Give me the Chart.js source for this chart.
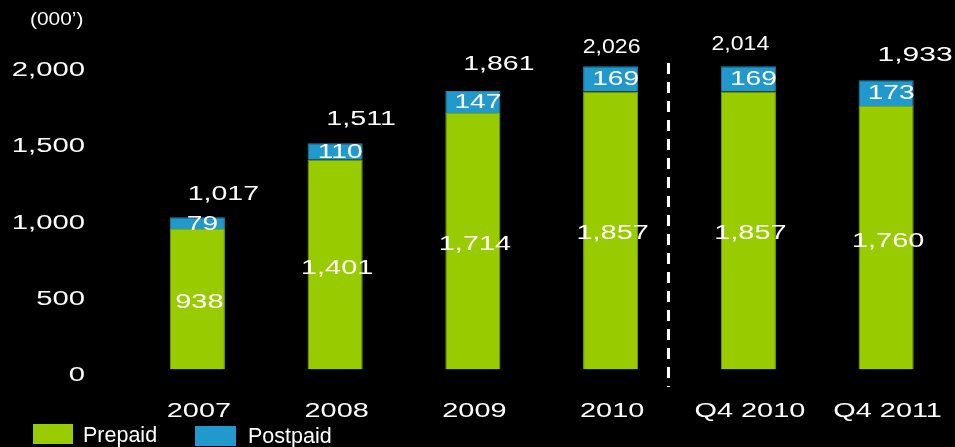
<!DOCTYPE html>
<html>
<head>
<meta charset="utf-8">
<title>Subscribers</title>
<script src="https://cdn.jsdelivr.net/npm/chart.js@4"></script>
<style>
    html, body { margin: 0; padding: 0; background: #000; overflow: hidden; }
    #wrap { position: relative; width: 955px; height: 447px; }
</style>
</head>
<body>
<div id="wrap"><canvas id="subs-chart"></canvas></div>
<script>
// Subscriber base, thousands
const categories = ["2007", "2008", "2009", "2010", "Q4 2010", "Q4 2011"];
const prepaid = [938, 1401, 1714, 1857, 1857, 1760];
const postpaid = [79, 110, 147, 169, 169, 173];
const totals = [1017, 1511, 1861, 2026, 2014, 1933];
const yTicks = [0, 500, 1000, 1500, 2000];

const GREEN = "#99cc00";
const BLUE = "#2299cc";
const FONT = '"Liberation Sans", Arial, sans-serif';

// nudges for the total labels above each bar
const totalShiftX = [26, 26, 26, 1, -8, 29];
const totalShiftY = [-23, -24, -26, -19, -22, -25];
const totalStretch = [1.46, 1.47, 1.46, 1.1, 1.1, 1.5];
const totalSize = [19.5, 19.5, 19.5, 21, 21, 20];

// dashed divider sits between 2010 and Q4 2010
const dividerAt = 3.42;

function fmt(v) {
    return v.toLocaleString("en-US");
}

// canvas text with horizontal stretch
function drawText(ctx, text, x, y, size, sx, align, baseline) {
    ctx.save();
    ctx.translate(x, y);
    ctx.scale(sx, 1);
    ctx.font = size + "px " + FONT;
    ctx.fillStyle = "#fff";
    ctx.textAlign = align || "center";
    ctx.textBaseline = baseline || "middle";
    ctx.fillText(text, 0, 0);
    ctx.restore();
}

const labelsPlugin = {
    id: "labelsPlugin",
    afterDatasetsDraw(chart) {
        const ctx = chart.ctx;
        const x = chart.scales.x;
        const y = chart.scales.y;
        const yl = chart.scales.yLabels;

        // unit caption
        drawText(ctx, "(000\u2019)", 30, 20, 19, 1.1, "left");

        // y tick labels
        yTicks.forEach(t => {
            drawText(ctx, fmt(t), 85, yl.getPixelForValue(t), 19.5, 1.5, "right");
        });

        // category labels
        categories.forEach((c, i) => {
            drawText(ctx, c, x.getPixelForValue(i) + 1.5, 412, 19.5, 1.48, "center");
        });

        categories.forEach((c, i) => {
            const cx = x.getPixelForValue(i);
            const base = y.getPixelForValue(0);
            const pTop = y.getPixelForValue(prepaid[i]);
            const top = y.getPixelForValue(prepaid[i] + postpaid[i]);

            // segment values
            drawText(ctx, fmt(prepaid[i]), cx + 2, (base + pTop) / 2 + 3.5, 19.5, 1.48, "center");
            drawText(ctx, fmt(postpaid[i]), cx + 5, (pTop + top) / 2 + 1, 19.5, 1.44, "center");

            // totals
            drawText(ctx, fmt(totals[i]), cx + totalShiftX[i], top + totalShiftY[i],
                totalSize[i], totalStretch[i], "center");
        });

        // dashed separator
        const dx = x.getPixelForValue(dividerAt);
        ctx.save();
        ctx.strokeStyle = "#fff";
        ctx.lineWidth = 3;
        ctx.setLineDash([11, 8]);
        ctx.beginPath();
        ctx.moveTo(dx, 63);
        ctx.lineTo(dx, 387);
        ctx.stroke();
        ctx.restore();

        // legend
        ctx.save();
        ctx.fillStyle = GREEN;
        ctx.fillRect(33, 424, 40, 20);
        ctx.fillStyle = BLUE;
        ctx.fillRect(195, 426, 41, 20);
        ctx.restore();
        drawText(ctx, chart.data.datasets[0].label, 83, 442.3, 21.5, 1, "left", "alphabetic");
        drawText(ctx, chart.data.datasets[1].label, 248, 443, 21.5, 1, "left", "alphabetic");
    }
};

new Chart(document.getElementById("subs-chart"), {
    type: "bar",
    data: {
        labels: categories,
        datasets: [
            {
                label: "Prepaid",
                data: prepaid,
                backgroundColor: GREEN,
                borderColor: "#7fa800",
                borderWidth: 1,
                borderSkipped: "bottom"
            },
            {
                label: "Postpaid",
                data: postpaid,
                backgroundColor: BLUE,
                borderColor: "#1c86b4",
                borderWidth: 1,
                borderSkipped: "bottom"
            }
        ]
    },
    options: {
        responsive: true,
        maintainAspectRatio: false,
        animation: false,
        layout: { padding: { left: 128.5, right: 0, top: 40.2, bottom: 77.5 } },
        datasets: { bar: { categoryPercentage: 1, barPercentage: 0.4 } },
        plugins: {
            legend: { display: false },
            tooltip: { enabled: false }
        },
        scales: {
            x: { stacked: true, display: false },
            y: { stacked: true, display: false, min: 0, max: 2200 },
            // tick labels run on a slightly looser spacing than the bars
            yLabels: { axis: "y", display: false, min: 42.5, max: 2197 }
        }
    },
    plugins: [labelsPlugin]
});
</script>
</body>
</html>
